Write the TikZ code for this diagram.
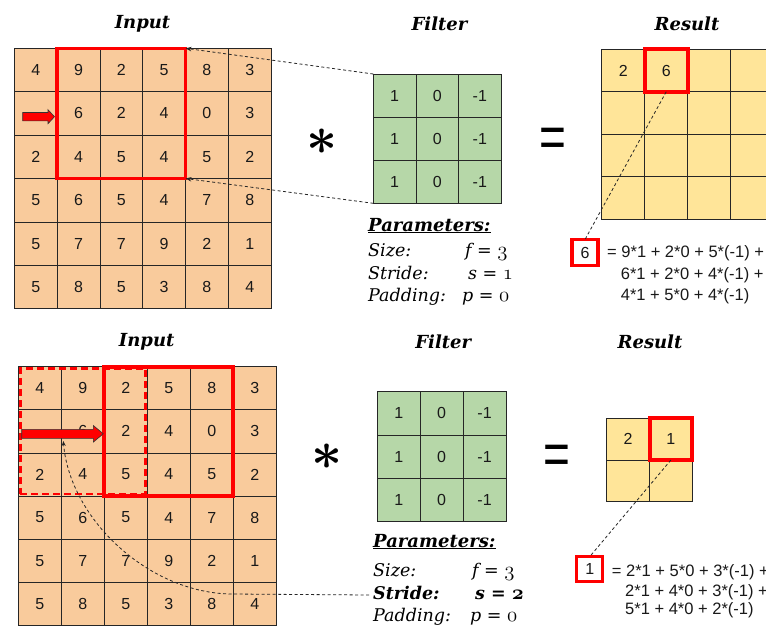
\documentclass[tikz,border=0pt]{standalone}
\usepackage{fontspec}
\setmainfont{Liberation Sans}
\newfontfamily\dvs{DejaVu Serif}
\usetikzlibrary{fit,arrows.meta}
\definecolor{inpc}{HTML}{F9CB9C}
\definecolor{filc}{HTML}{B6D7A8}
\definecolor{resc}{HTML}{FFE599}
\definecolor{redc}{HTML}{FF0000}
\newcommand\osn[1]{{\fontencoding{OML}\fontfamily{cmm}\fontseries{m}\fontshape{it}\fontsize{22}{22}\selectfont #1}}
\newcommand\osnb[1]{{\fontencoding{OML}\fontfamily{cmm}\fontseries{b}\fontshape{it}\fontsize{22}{22}\selectfont #1}}
\newcommand\mkgrid[7]{%
  \foreach \row [count=\rr from 0] in {#7} {
    \foreach \v [count=\cc from 0] in \row {
      \node[cellbase,#6,minimum width=#4,minimum height=#5] (#1-\rr-\cc) at ({#2+(\cc+0.5)*#4},{#3+(\rr+0.5)*#5}) {\v};
    }
  }}
\begin{document}
\begin{tikzpicture}[x=1pt,y=-1pt,
  cellbase/.style={draw=black!85, line width=0.8pt, inner sep=0pt, outer sep=0pt,
    font=\fontsize{16}{16}\selectfont, text=black!90},
  redbox/.style={draw=redc, line width=3.5pt, inner sep=0pt, outer sep=0pt},
  title/.style={font=\dvs\bfseries\itshape\fontsize{18}{18}\selectfont},
  param/.style={font=\dvs\itshape\fontsize{17.5}{18}\selectfont, anchor=west, inner sep=0pt,
    text height=12pt, text depth=4pt},
  eqn/.style={font=\fontsize{16.5}{16.5}\selectfont, anchor=west, inner sep=0pt,
    text height=12pt, text depth=3pt, text=black!90},
  conn/.style={draw=black!85, line width=0.8pt, dash pattern=on 3pt off 2.5pt},
  tip/.style={-{Stealth[length=6pt,width=4.5pt]}},
  arrowshape/.style={fill=redc, draw=black!80, line width=0.6pt},
  bigsym/.style={inner sep=0pt}]
\useasboundingbox (0,0) rectangle (766,625);
\fill[white] (0,0) rectangle (766,625);
\clip (0,0) rectangle (766,625);

% ---------------- top row ----------------
\node[title] (tin1) at (142.5,24) {Input};
\node[title] (tfi1) at (439.5,24) {Filter};
\node[title] (tre1) at (687,24) {Result};

\mkgrid{ia}{14.3}{48.3}{42.8}{43.4}{fill=inpc}{{4,9,2,5,8,3},{{},6,2,4,0,3},{2,4,5,4,5,2},{5,6,5,4,7,8},{5,7,7,9,2,1},{5,8,5,3,8,4}}
\mkgrid{fa}{373.3}{74}{42.6}{43.1}{fill=filc}{{1,0,-1},{1,0,-1},{1,0,-1}}
\mkgrid{ra}{601.7}{49.3}{43}{42.5}{fill=resc}{{2,6,{},{}},{{},{},{},{}},{{},{},{},{}},{{},{},{},{}}}

\node[redbox, fit=(ia-0-1)(ia-2-3)] (rba) {};
\node[redbox, line width=4pt, fit=(ra-0-1)] (rra) {};
\draw[arrowshape] (22.7,112.5) -- (48,112.5) -- (48,109.7) -- (54.5,116.7) -- (48,123.7) -- (48,120.9) -- (22.7,120.9) -- cycle;

\node[bigsym] (asta) at (322,142) {\scalebox{5.4}{\boldmath$\ast$}};
\node[bigsym] (eqsa) at (552.7,143) {\scalebox{1}[1.3]{\fontsize{46}{46}\selectfont =}};

\draw[conn,tip] (fa-0-0.north west) -- (rba.north east);
\draw[conn,tip] (fa-2-0.south west) -- (rba.south east);

\node[param,font=\dvs\bfseries\itshape\fontsize{18}{18}\selectfont] (pha) at (368,227) {\underline{Parameters:}};
\node[param] (psa) at (368,252) {Size:};
\node[param] (pva) at (465,252) {f = \osn{3}};
\node[param] (pstra) at (368,275) {Stride:};
\node[param] (psva) at (468,275) {s = \osn{1}};
\node[param] (ppa) at (368,297) {Padding:};
\node[param] (ppva) at (462,297) {p = \osn{0}};

\node[redbox, line width=3.5pt, minimum width=26pt, minimum height=26pt,
  font=\fontsize{16}{16}\selectfont, text=black!90] (sma) at (585,252.5) {6};
\draw[conn] (rra.south) -- (sma.north);
\node[eqn] (eqa1) at (607,253) {= 9*1 + 2*0 + 5*(-1) +};
\node[eqn] (eqa2) at (620.7,275) {6*1 + 2*0 + 4*(-1) +};
\node[eqn] (eqa3) at (620.7,296) {4*1 + 5*0 + 4*(-1)};

% ---------------- bottom row ----------------
\node[title] (tin2) at (146.7,341.7) {Input};
\node[title] (tfi2) at (443.3,341.7) {Filter};
\node[title] (tre2) at (650,341.7) {Result};

\mkgrid{ib}{18.3}{366.7}{43}{43.1}{fill=inpc}{{4,9,2,5,8,3},{{},6,2,4,0,3},{2,4,5,4,5,2},{5,6,5,4,7,8},{5,7,7,9,2,1},{5,8,5,3,8,4}}
\mkgrid{fb}{377.3}{391.7}{42.9}{43.3}{fill=filc}{{1,0,-1},{1,0,-1},{1,0,-1}}
\mkgrid{rb}{606.7}{418.3}{42.8}{41.7}{fill=resc}{{2,1},{{},{}}}

\node[redbox, line width=2.8pt, dash pattern=on 7pt off 4pt, inner sep=-2pt, fit=(ib-0-0)(ib-2-2)] (rbd) {};
\node[redbox, line width=4pt, fit=(ib-0-2)(ib-2-4)] (rbb) {};
\node[redbox, line width=4pt, fit=(rb-0-1)] (rrb) {};
\draw[arrowshape] (21.7,429.3) -- (93.3,429.3) -- (93.3,425.5) -- (103.3,433.8) -- (93.3,442.1) -- (93.3,438.3) -- (21.7,438.3) -- cycle;

\node[bigsym] (astb) at (326.7,456.7) {\scalebox{5.4}{\boldmath$\ast$}};
\node[bigsym] (eqsb) at (556.7,460) {\scalebox{1}[1.3]{\fontsize{46}{46}\selectfont =}};

\node[param,font=\dvs\bfseries\itshape\fontsize{18}{18}\selectfont] (phb) at (373,543) {\underline{Parameters:}};
\node[param] (psb) at (373,572) {Size:};
\node[param] (pvb) at (472,572) {f = \osn{3}};
\node[param,font=\dvs\bfseries\itshape\fontsize{17.5}{18}\selectfont] (pstrb) at (373,595) {Stride:};
\node[param,font=\dvs\bfseries\itshape\fontsize{17.5}{18}\selectfont] (psvb) at (475,595) {s = \osnb{2}};
\node[param] (ppb) at (373,617) {Padding:};
\node[param] (ppvb) at (470,617) {p = \osn{0}};

\coordinate (ctip) at (63.3,441);
\coordinate (cbend) at (233,594);
\draw[conn,-{Stealth[length=5pt,width=4pt]}] ([xshift=-4pt]pstrb.west) -- (cbend) .. controls (150,594) and (70,520) .. (ctip);

\node[redbox, line width=3.5pt, minimum width=26pt, minimum height=25pt,
  font=\fontsize{16}{16}\selectfont, text=black!90] (smb) at (589.7,569.2) {1};
\draw[conn] (rrb.south) -- (smb.north);
\node[eqn] (eqb1) at (611.7,571.7) {= 2*1 + 5*0 + 3*(-1) +};
\node[eqn] (eqb2) at (625,591.7) {2*1 + 4*0 + 3*(-1) +};
\node[eqn] (eqb3) at (625,610) {5*1 + 4*0 + 2*(-1)};
\end{tikzpicture}
\end{document}
